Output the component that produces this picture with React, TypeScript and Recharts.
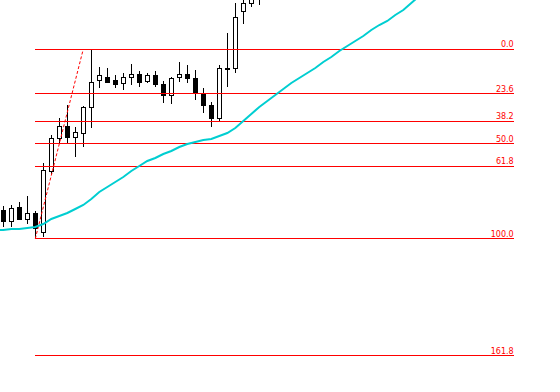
import { Bar, ComposedChart, Line, ReferenceLine, XAxis, YAxis } from "recharts";

// bar index (one candle every 8px); -1 is the bar just off the left edge
const bars = Array.from({ length: 54 }, (_, i) => i - 1);

// OHLC (price units, 0.0001 per px), from bar 0
const open = [
  1.2878, 1.2867, 1.2881, 1.2869, 1.2875, 1.2856, 1.2917, 1.295, 1.2962, 1.2951,
  1.2955, 1.2981, 1.3008, 1.3011, 1.3008, 1.3005, 1.3011, 1.3014, 1.3007, 1.3013,
  1.3004, 1.2993, 1.3011, 1.3014, 1.301, 1.2995, 1.2983, 1.297, 1.302, 1.302,
  1.3077, 1.3085, 1.309,
];
const high = [
  1.2882, 1.2883, 1.2886, 1.2892, 1.2877, 1.2925, 1.2953, 1.297, 1.2983, 1.2961,
  1.2982, 1.3039, 1.3021, 1.302, 1.3013, 1.3015, 1.3024, 1.3017, 1.3015, 1.3017,
  1.3007, 1.3011, 1.3026, 1.3023, 1.3018, 1.3, 1.2986, 1.3023, 1.3055, 1.3085,
  1.309, 1.3095, 1.31,
];
const low = [
  1.2861, 1.2861, 1.2868, 1.2864, 1.285, 1.2851, 1.2913, 1.2945, 1.2944, 1.2931,
  1.2941, 1.296, 1.3, 1.3005, 1.3, 1.2998, 1.3003, 1.3001, 1.3005, 1.3001,
  1.2985, 1.2984, 1.3006, 1.3005, 1.2988, 1.2975, 1.2961, 1.2967, 1.3001, 1.3015,
  1.3064, 1.3081, 1.3083,
];
const close = [
  1.2867, 1.288, 1.2869, 1.2875, 1.286, 1.2918, 1.295, 1.2962, 1.2951, 1.2956,
  1.2981, 1.3006, 1.3013, 1.3006, 1.3004, 1.3011, 1.3014, 1.3006, 1.3013, 1.3004,
  1.2993, 1.301, 1.3014, 1.301, 1.2995, 1.2983, 1.297, 1.302, 1.3019, 1.3071,
  1.3085, 1.3092, 1.3096,
];

// moving average, from bar -1
const ma = [
  1.2858,
  1.2858, 1.2859, 1.2859, 1.286, 1.2861, 1.2864, 1.2869, 1.2872, 1.2875, 1.2879,
  1.2883, 1.2889, 1.2896, 1.2901, 1.2906, 1.2911, 1.2917, 1.2922, 1.2927, 1.293,
  1.2934, 1.2937, 1.2941, 1.2944, 1.2946, 1.2948, 1.2949, 1.2952, 1.2955, 1.296,
  1.2967, 1.2974, 1.2981, 1.2987, 1.2993, 1.2999, 1.3005, 1.301, 1.3015, 1.302,
  1.3026, 1.3031, 1.3037, 1.3042, 1.3047, 1.3052, 1.3058, 1.3063, 1.3067, 1.3073,
  1.3078, 1.3085, 1.3092,
];

// fibonacci retracement anchors
const swingLow = 1.28493;
const swingHigh = 1.3039;
const fibLevels = [0, 23.6, 38.2, 50, 61.8, 100, 161.8];

const FIB_START = 4;
const FIB_END = 63.8;

const rows = bars.map((i, n) => ({
  i,
  open: open[i],
  high: high[i],
  low: low[i],
  close: close[i],
  range: i >= 0 && open[i] != null ? [low[i], high[i]] : null,
  ma: ma[n],
}));

function Candle(props: any) {
  const { x, y, width, height, payload } = props;
  if (payload == null || payload.open == null) return null;
  const { open: o, high: h, low: l, close: c } = payload;
  const cx = Math.round(x + width / 2) + 0.5;
  const yOf = (p: number) => (h === l ? y : y + ((h - p) / (h - l)) * height);
  const top = Math.round(yOf(Math.max(o, c))) + 0.5;
  const bot = Math.round(yOf(Math.min(o, c))) + 0.5;
  const bull = c >= o;
  return (
    <g shapeRendering="crispEdges">
      <line
        x1={cx}
        x2={cx}
        y1={Math.round(y)}
        y2={Math.round(y + height)}
        stroke="#000"
        strokeWidth={1}
      />
      <rect
        x={cx - 2}
        y={top}
        width={4}
        height={Math.max(bot - top, 1)}
        fill={bull ? "#fff" : "#000"}
        stroke="#000"
        strokeWidth={1}
      />
    </g>
  );
}

const fibLabel = (level: number) => (props: any) => {
  const vb = props.viewBox || {};
  return (
    <text
      x={(vb.x ?? 0) + (vb.width ?? 0)}
      y={Math.round(vb.y ?? 0) - 2}
      textAnchor="end"
      fill="#FF0000"
      fontSize={8}
      fontFamily="DejaVu Sans"
    >
      {level.toFixed(1)}
    </text>
  );
};

export default function App() {
  return (
    <div style={{ width: 560, height: 392, background: "#fff" }}>
      <style>{`body{margin:0}`}</style>
      <ComposedChart
        width={560}
        height={392}
        data={rows}
        margin={{ top: 0, right: 0, bottom: 0, left: 0 }}
      >
        <XAxis
          hide
          type="number"
          dataKey="i"
          domain={[-0.4125, 69.5875]}
          allowDataOverflow
        />
        <YAxis hide domain={[1.2696, 1.3088]} allowDataOverflow />
        {fibLevels.map((lv) => {
          const p = swingHigh - ((swingHigh - swingLow) * lv) / 100;
          return (
            <ReferenceLine
              key={lv}
              segment={[
                { x: FIB_START, y: p },
                { x: FIB_END, y: p },
              ]}
              stroke="#FF0000"
              strokeWidth={1}
              shapeRendering="crispEdges"
              ifOverflow="visible"
              label={fibLabel(lv)}
            />
          );
        })}
        <ReferenceLine
          segment={[
            { x: 4, y: swingLow },
            { x: 10, y: swingHigh },
          ]}
          stroke="#FF0000"
          strokeDasharray="3 2"
          ifOverflow="visible"
        />
        <Bar dataKey="range" barSize={5} shape={Candle} isAnimationActive={false} />
        <Line
          dataKey="ma"
          stroke="#00CED1"
          strokeWidth={2}
          dot={false}
          activeDot={false}
          type="linear"
          isAnimationActive={false}
        />
      </ComposedChart>
    </div>
  );
}
